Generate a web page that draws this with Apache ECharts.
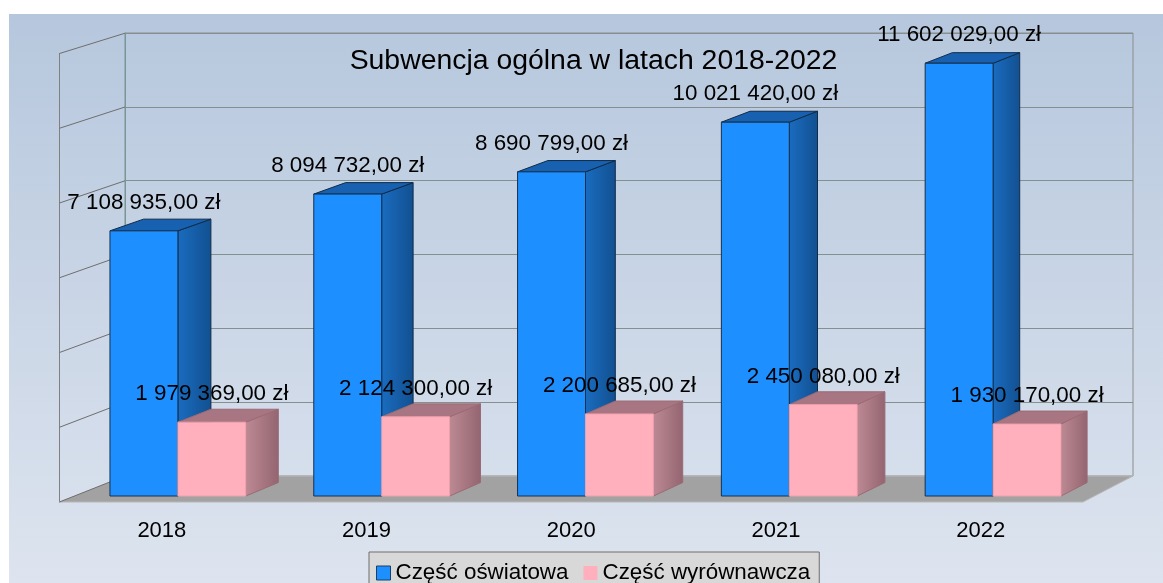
<!DOCTYPE html>
<html>
<head>
<meta charset="utf-8">
<style>
  html, body { margin: 0; padding: 0; background: #fff; overflow: hidden; }
  #chart { width: 1163px; height: 583px; }
</style>
<script src="https://cdn.jsdelivr.net/npm/echarts@6/dist/echarts.min.js"></script>
</head>
<body>
<div id="chart"></div>
<script>
const years = ["2018", "2019", "2020", "2021", "2022"];
const oswiatowa = [7108935, 8094732, 8690799, 10021420, 11602029];
const wyrownawcza = [1979369, 2124300, 2200685, 2450080, 1930170];
const wallTicks = [0, 2000000, 4000000, 6000000, 8000000, 10000000, 12000000];

const FONT = '"Liberation Sans", Arial, sans-serif';
const chart = echarts.init(document.getElementById("chart"));

// fake perspective of the old 3D chart: f = 1 is the full depth of the box
const depth = (x, y, f) => [
  x + f * (65.5 - 0.01514 * (x - 59.5)),
  y - f * (26 - 0.0127 * (502 - y)),
];

const money = (v) => {
  const s = String(v).replace(/\B(?=(\d{3})+$)/g, " ");
  return s + ",00 zł";
};

const makeBar = (side, front, frontStroke, sideFill, topFill, edge) => (params, api) => {
  const cat = api.value(0);
  const val = api.value(1);
  const [cx, top] = api.coord([cat, val]);
  const base = api.coord([cat, 0])[1];
  const w = api.size([1, 0])[0] / 3;
  const x0 = side < 0 ? cx - w : cx;
  const x1 = x0 + w;
  const f = 0.518;
  const tl = depth(x0, top, f);
  const tr = depth(x1, top, f);
  const br = depth(x1, base, f);
  return {
    type: "group",
    children: [
      {
        type: "polygon",
        shape: { points: [[x1, top], tr, br, [x1, base]] },
        style: { fill: sideFill, stroke: edge, lineWidth: 1 },
      },
      {
        type: "polygon",
        shape: { points: [[x0, top], tl, tr, [x1, top]] },
        style: { fill: topFill, stroke: edge, lineWidth: 1 },
      },
      {
        type: "rect",
        shape: { x: x0, y: top, width: w, height: base - top },
        style: { fill: front, stroke: frontStroke, lineWidth: 1 },
      },
      {
        type: "text",
        x: (x0 + x1) / 2,
        y: top - 28,
        style: {
          text: money(val),
          fill: "#000",
          font: "22.4px " + FONT,
          align: "center",
          verticalAlign: "middle",
        },
      },
    ],
  };
};

const grad = (a, b) => ({
  type: "linear", x: 0, y: 0, x2: 1, y2: 0,
  colorStops: [{ offset: 0, color: a }, { offset: 1, color: b }],
});

const option = {
  animation: false,
  backgroundColor: "#fff",
  graphic: [
    {
      type: "rect",
      z: -10,
      shape: { x: 9, y: 14, width: 1154, height: 569 },
      style: {
        fill: {
          type: "linear", x: 0, y: 0, x2: 0, y2: 1,
          colorStops: [
            { offset: 0, color: "#B6C7DD" },
            { offset: 1, color: "#DDE4EF" },
          ],
        },
      },
    },
  ],
  title: {
    text: "Subwencja ogólna w latach 2018-2022",
    left: 588.5,
    top: 42,
    textAlign: "center",
    textStyle: { fontFamily: FONT, fontSize: 28.4, fontWeight: "normal", color: "#000" },
  },
  legend: {
    left: 369,
    top: 552,
    padding: [10, 9, 12, 7],
    backgroundColor: "#D8D8D8",
    borderColor: "#6E6E6E",
    borderWidth: 1,
    itemWidth: 14,
    itemHeight: 14,
    itemGap: 15,
    textStyle: { fontFamily: FONT, fontSize: 22.4, color: "#000" },
    data: [
      { name: "Część oświatowa", icon: "rect", itemStyle: { color: "#1E8FFF", borderColor: "#1B3F66", borderWidth: 1 } },
      { name: "Część wyrównawcza", icon: "rect", itemStyle: { color: "#FFB0BC", borderWidth: 0 } },
    ],
  },
  grid: [
    { left: 59.5, top: 53.5, width: 1023.5, height: 448.5 },
    { left: 125, top: 33, width: 1008, height: 443, show: true, borderColor: "#8C8C8C", borderWidth: 1, backgroundColor: "transparent" },
    { left: 76, top: 48.4, width: 1019, height: 447.6 },
  ],
  xAxis: [
    {
      gridIndex: 0, type: "category", data: years,
      axisLine: { show: false }, axisTick: { show: false },
      axisLabel: { fontFamily: FONT, fontSize: 22, color: "#000", margin: 18 },
    },
    { gridIndex: 1, type: "category", data: years, show: false },
    { gridIndex: 2, type: "category", data: years, show: false },
  ],
  yAxis: [
    {
      gridIndex: 0, type: "value", min: 0, max: 12000000, interval: 2000000,
      axisLine: { show: true, lineStyle: { color: "#808080" } },
      axisTick: { show: false }, axisLabel: { show: false }, splitLine: { show: false },
    },
    {
      gridIndex: 1, type: "value", min: 0, max: 12000000, interval: 2000000,
      axisLine: { show: true, lineStyle: { color: "#6F9A9A" } },
      axisTick: { show: false }, axisLabel: { show: false },
      splitLine: { show: true, lineStyle: { color: "#84908F", width: 1 } },
    },
    { gridIndex: 2, type: "value", min: 0, max: 12000000, show: false },
  ],
  series: [
    {
      type: "custom",
      name: "floor",
      xAxisIndex: 0, yAxisIndex: 0, z: 2, silent: true,
      data: [[0, 0]],
      renderItem: (params, api) => {
        const cs = params.coordSys;
        const y0 = api.coord([0, 0])[1];
        const x0 = cs.x, x1 = cs.x + cs.width;
        return {
          type: "polygon",
          shape: { points: [[x0, y0], depth(x0, y0, 1), depth(x1, y0, 1), [x1, y0]] },
          style: { fill: "#A2A2A2", stroke: "#B8B8B8", lineWidth: 1 },
        };
      },
    },
    {
      type: "custom",
      name: "wall",
      xAxisIndex: 0, yAxisIndex: 0, z: 3, silent: true,
      data: wallTicks.map((v) => [0, v]),
      renderItem: (params, api) => {
        const x0 = params.coordSys.x;
        const y = api.coord([0, api.value(1)])[1];
        const p = depth(x0, y, 1);
        return {
          type: "line",
          shape: { x1: x0, y1: y, x2: p[0], y2: p[1] },
          style: { stroke: "#6E6E6E", lineWidth: 1 },
        };
      },
    },
    {
      type: "custom",
      name: "Część oświatowa",
      xAxisIndex: 2, yAxisIndex: 2, z: 4,
      itemStyle: { color: "#1E8FFF" },
      encode: { x: 0, y: 1 },
      data: oswiatowa.map((v, i) => [i, v]),
      renderItem: makeBar(-1, "#1E8FFF", "#14304F", grad("#1A6CC0", "#125090"), "#1761B0", "#102C4A"),
    },
    {
      type: "custom",
      name: "Część wyrównawcza",
      xAxisIndex: 2, yAxisIndex: 2, z: 5,
      itemStyle: { color: "#FFB0BC" },
      encode: { x: 0, y: 1 },
      data: wyrownawcza.map((v, i) => [i, v]),
      renderItem: makeBar(1, "#FFB0BC", "#EFA0AC", grad("#BD8A94", "#936570"), "#A87682", "#9A6A75"),
    },
  ],
};

chart.setOption(option);
</script>
</body>
</html>
